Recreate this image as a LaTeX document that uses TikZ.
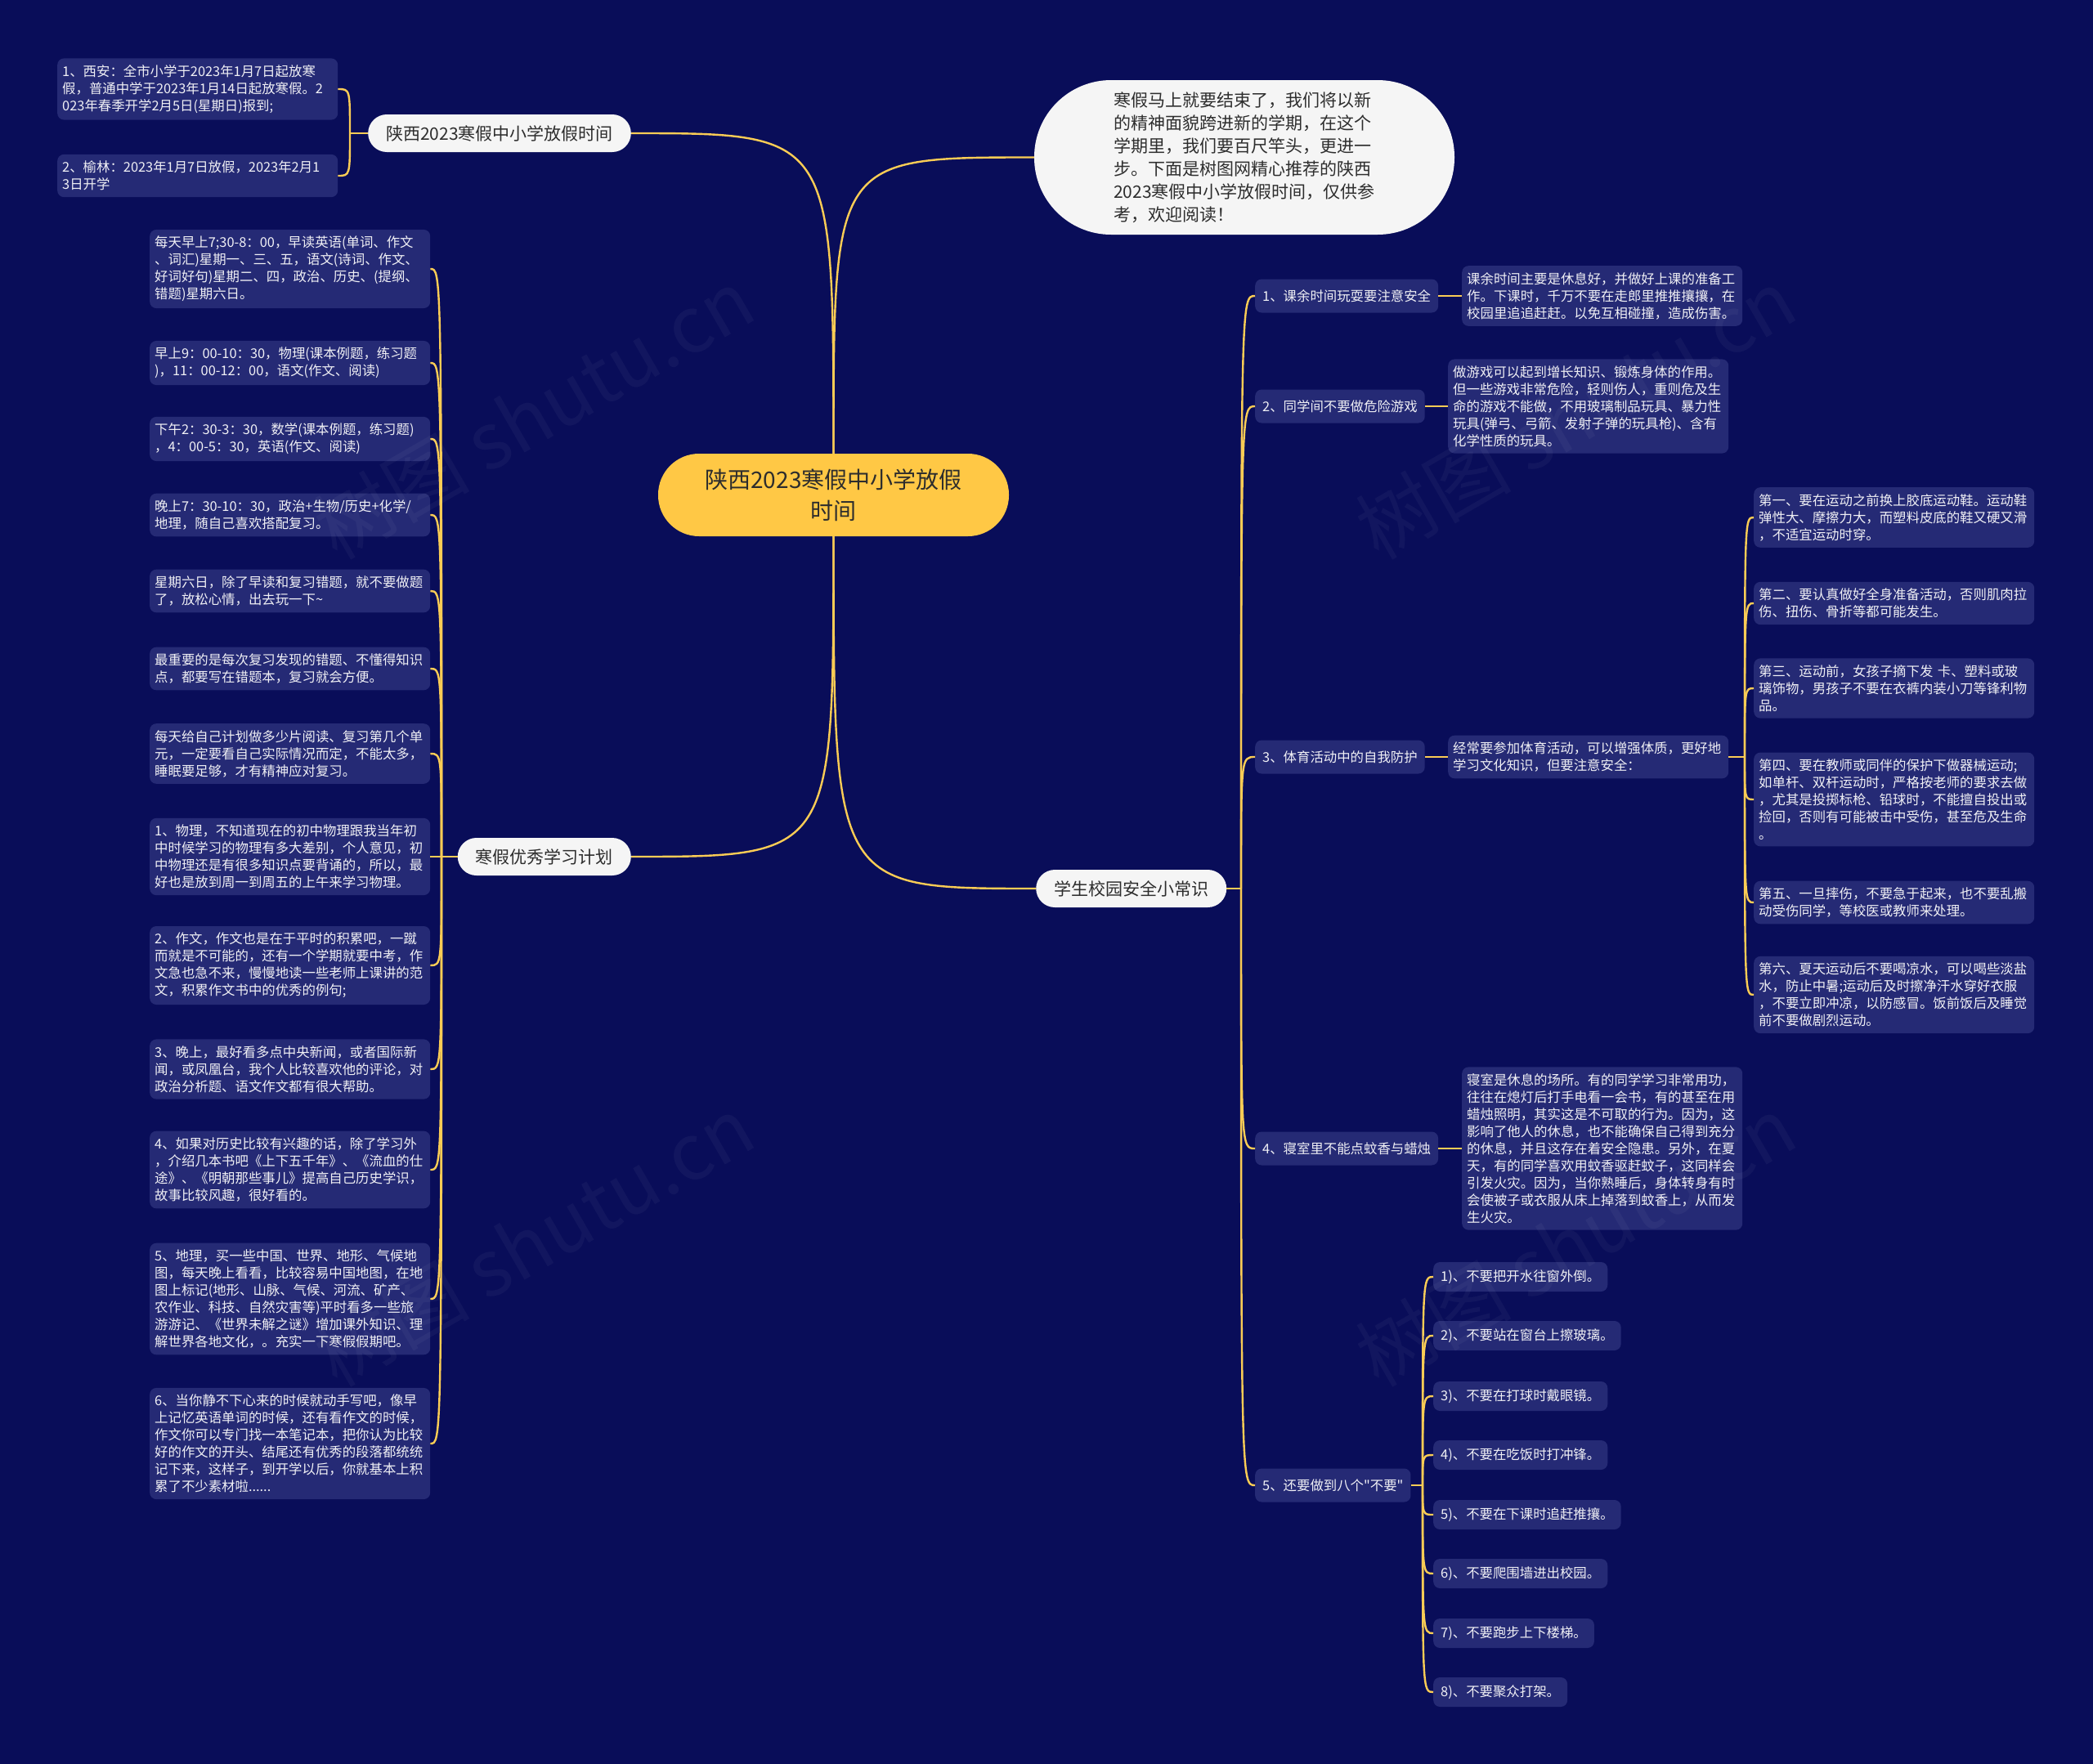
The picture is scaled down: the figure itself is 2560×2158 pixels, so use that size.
\documentclass[tikz,border=0pt]{standalone}
\usepackage{fontspec}
\setmainfont{Noto Sans CJK SC}
\newcommand\straightdq{\XeTeXglyph\XeTeXcharglyph"22\relax}
\definecolor{bg}{RGB}{9,13,89}
\definecolor{leaf}{RGB}{37,42,117}
\definecolor{gold}{RGB}{250,204,85}
\definecolor{core}{RGB}{255,200,69}
\definecolor{pill}{RGB}{245,245,245}
\definecolor{ink}{RGB}{45,45,45}
\definecolor{leaftext}{RGB}{240,240,245}
\tikzset{
  leafbox/.style={fill=leaf, rounded corners=8pt, text=leaftext, font=\fontsize{16.4}{21}\selectfont, align=left, text width=331pt, inner xsep=6pt, inner ysep=8pt, anchor=west},
  tagbox/.style={fill=leaf, rounded corners=8pt, text=leaftext, font=\fontsize{16.4}{21}\selectfont, inner xsep=9pt, minimum height=41pt, anchor=west},
  itembox/.style={tagbox, minimum height=36pt, inner xsep=9pt},
  pillbox/.style={fill=pill, rounded corners=23pt, text=ink, font=\fontsize{21}{26}\selectfont, inner xsep=22pt, minimum height=46pt},
  corebox/.style={fill=core, rounded corners=50pt, minimum width=429pt, minimum height=101pt, text=ink, font=\fontsize{28}{37.5}\selectfont, align=center},
  introbox/.style={fill=pill, rounded corners=94pt, minimum width=514pt, minimum height=189pt, text=ink, font=\fontsize{21}{28}\selectfont, align=left},
  conn/.style={draw=gold, line width=2.4pt},
  wmark/.style={rotate=30, text=white, opacity=0.04, font=\fontsize{95}{95}\selectfont}
}
\begin{document}
\begin{tikzpicture}[x=1pt,y=-1pt]
\useasboundingbox (0,0) rectangle (2560,2158);
\fill[bg] (0,0) rectangle (2560,2158);

% ---- central and branches
\node[corebox] (core) at (1019.5,605.5) {陕西2023寒假中小学放假\\时间};
\node[introbox] (intro) at (1522,192.5) {寒假马上就要结束了，我们将以新\\的精神面貌跨进新的学期，在这个\\学期里，我们要百尺竿头，更进一\\步。下面是树图网精心推荐的陕西\\2023寒假中小学放假时间，仅供参\\考，欢迎阅读！};
\node[pillbox,anchor=east] (b1) at (772,163) {陕西2023寒假中小学放假时间};
\node[pillbox,anchor=east] (b2) at (772,1048) {寒假优秀学习计划};
\node[pillbox,anchor=west] (b3) at (1267,1087) {学生校园安全小常识};

% ---- top-left leaves
\node[leafbox] (t1) at (70,109) {1、西安：全市小学于2023年1月7日起放寒\\假，普通中学于2023年1月14日起放寒假。2\\023年春季开学2月5日(星期日)报到;};
\node[leafbox] (t2) at (70,215) {2、榆林：2023年1月7日放假，2023年2月1\\3日开学};

% ---- left study plan leaves
\node[leafbox] (p1) at (183,329) {每天早上7;30-8：00，早读英语(单词、作文\\、词汇)星期一、三、五，语文(诗词、作文、\\好词好句)星期二、四，政治、历史、(提纲、\\错题)星期六日。};
\node[leafbox] (p2) at (183,444) {早上9：00-10：30，物理(课本例题，练习题\\)，11：00-12：00，语文(作文、阅读)};
\node[leafbox] (p3) at (183,537) {下午2：30-3：30，数学(课本例题，练习题)\\，4：00-5：30，英语(作文、阅读)};
\node[leafbox] (p4) at (183,630) {晚上7：30-10：30，政治+生物/历史+化学/\\地理，随自己喜欢搭配复习。};
\node[leafbox] (p5) at (183,723) {星期六日，除了早读和复习错题，就不要做题\\了，放松心情，出去玩一下\textasciitilde};
\node[leafbox] (p6) at (183,818) {最重要的是每次复习发现的错题、不懂得知识\\点，都要写在错题本，复习就会方便。};
\node[leafbox] (p7) at (183,922) {每天给自己计划做多少片阅读、复习第几个单\\元，一定要看自己实际情况而定，不能太多，\\睡眠要足够，才有精神应对复习。};
\node[leafbox] (p8) at (183,1048) {1、物理，不知道现在的初中物理跟我当年初\\中时候学习的物理有多大差别，个人意见，初\\中物理还是有很多知识点要背诵的，所以，最\\好也是放到周一到周五的上午来学习物理。};
\node[leafbox] (p9) at (183,1181) {2、作文，作文也是在于平时的积累吧，一蹴\\而就是不可能的，还有一个学期就要中考，作\\文急也急不来，慢慢地读一些老师上课讲的范\\文，积累作文书中的优秀的例句;};
\node[leafbox] (p10) at (183,1308) {3、晚上，最好看多点中央新闻，或者国际新\\闻，或凤凰台，我个人比较喜欢他的评论，对\\政治分析题、语文作文都有很大帮助。};
\node[leafbox] (p11) at (183,1431) {4、如果对历史比较有兴趣的话，除了学习外\\，介绍几本书吧《上下五千年》、《流血的仕\\途》、《明朝那些事儿》提高自己历史学识，\\故事比较风趣，很好看的。};
\node[leafbox] (p12) at (183,1589) {5、地理，买一些中国、世界、地形、气候地\\图，每天晚上看看，比较容易中国地图，在地\\图上标记(地形、山脉、气候、河流、矿产、\\农作业、科技、自然灾害等)平时看多一些旅\\游游记、《世界未解之谜》增加课外知识、理\\解世界各地文化，。充实一下寒假假期吧。};
\node[leafbox] (p13) at (183,1766) {6、当你静不下心来的时候就动手写吧，像早\\上记忆英语单词的时候，还有看作文的时候，\\作文你可以专门找一本笔记本，把你认为比较\\好的作文的开头、结尾还有优秀的段落都统统\\记下来，这样子，到开学以后，你就基本上积\\累了不少素材啦......};

% ---- right: safety tips
\node[tagbox] (r1) at (1535,362) {1、课余时间玩耍要注意安全};
\node[tagbox] (r2) at (1535,497) {2、同学间不要做危险游戏};
\node[tagbox] (r3) at (1535,926) {3、体育活动中的自我防护};
\node[tagbox] (r4) at (1535,1405) {4、寝室里不能点蚊香与蜡烛};
\node[tagbox] (r5) at (1535,1817) {5、还要做到八个\straightdq 不要\straightdq};

\node[leafbox] (d1) at (1788,362) {课余时间主要是休息好，并做好上课的准备工\\作。下课时，千万不要在走郎里推推攘攘，在\\校园里追追赶赶。以免互相碰撞，造成伤害。};
\node[leafbox] (d2) at (1771,497) {做游戏可以起到增长知识、锻炼身体的作用。\\但一些游戏非常危险，轻则伤人，重则危及生\\命的游戏不能做，不用玻璃制品玩具、暴力性\\玩具(弹弓、弓箭、发射子弹的玩具枪)、含有\\化学性质的玩具。};
\node[leafbox] (d3) at (1771,926) {经常要参加体育活动，可以增强体质，更好地\\学习文化知识，但要注意安全：};
\node[leafbox] (d4) at (1788,1405) {寝室是休息的场所。有的同学学习非常用功，\\往往在熄灯后打手电看一会书，有的甚至在用\\蜡烛照明，其实这是不可取的行为。因为，这\\影响了他人的休息，也不能确保自己得到充分\\的休息，并且这存在着安全隐患。另外，在夏\\天，有的同学喜欢用蚊香驱赶蚊子，这同样会\\引发火灾。因为，当你熟睡后，身体转身有时\\会使被子或衣服从床上掉落到蚊香上，从而发\\生火灾。};

\node[leafbox] (s1) at (2145,633) {第一、要在运动之前换上胶底运动鞋。运动鞋\\弹性大、摩擦力大，而塑料皮底的鞋又硬又滑\\，不适宜运动时穿。};
\node[leafbox] (s2) at (2145,738) {第二、要认真做好全身准备活动，否则肌肉拉\\伤、扭伤、骨折等都可能发生。};
\node[leafbox] (s3) at (2145,842) {第三、运动前，女孩子摘下发 卡、塑料或玻\\璃饰物，男孩子不要在衣裤内装小刀等锋利物\\品。};
\node[leafbox] (s4) at (2145,978) {第四、要在教师或同伴的保护下做器械运动;\\如单杆、双杆运动时，严格按老师的要求去做\\，尤其是投掷标枪、铅球时，不能擅自投出或\\捡回，否则有可能被击中受伤，甚至危及生命\\。};
\node[leafbox] (s5) at (2145,1104) {第五、一旦摔伤，不要急于起来，也不要乱搬\\动受伤同学，等校医或教师来处理。};
\node[leafbox] (s6) at (2145,1217) {第六、夏天运动后不要喝凉水，可以喝些淡盐\\水，防止中暑;运动后及时擦净汗水穿好衣服\\，不要立即冲凉，以防感冒。饭前饭后及睡觉\\前不要做剧烈运动。};

\node[itembox] (k1) at (1753,1562) {1)、不要把开水往窗外倒。};
\node[itembox] (k2) at (1753,1634) {2)、不要站在窗台上擦玻璃。};
\node[itembox] (k3) at (1753,1708) {3)、不要在打球时戴眼镜。};
\node[itembox] (k4) at (1753,1780) {4)、不要在吃饭时打冲锋。};
\node[itembox] (k5) at (1753,1853) {5)、不要在下课时追赶推攘。};
\node[itembox] (k6) at (1753,1925) {6)、不要爬围墙进出校园。};
\node[itembox] (k7) at (1753,1998) {7)、不要跑步上下楼梯。};
\node[itembox] (k8) at (1753,2070) {8)、不要聚众打架。};

% ---- connectors from centre
\draw[conn] (core.north) .. controls (core.north |- b1.east) .. (b1.east);
\draw[conn] (core.north) .. controls (core.north |- intro.west) .. (intro.west);
\draw[conn] (core.south) .. controls (core.south |- b2.east) .. (b2.east);
\draw[conn] (core.south) .. controls (core.south |- b3.west) .. (b3.west);

% ---- bracket: top-left
\coordinate (j1) at (428,163);
\draw[conn] (b1.west) -- (j1);
\foreach \n in {t1,t2}
  \draw[conn] (j1) .. controls (j1 |- \n.east) .. (\n.east);

% ---- bracket: study plan
\coordinate (j2) at (540,1048);
\draw[conn] (b2.west) -- (j2);
\foreach \n in {p1,p2,p3,p4,p5,p6,p7,p8,p9,p10,p11,p12,p13}
  \draw[conn] (j2) .. controls (j2 |- \n.east) .. (\n.east);

% ---- bracket: safety
\coordinate (j3) at (1518,1087);
\draw[conn] (b3.east) -- (j3);
\foreach \n in {r1,r2,r3,r4,r5}
  \draw[conn] (j3) .. controls (j3 |- \n.west) .. (\n.west);
\draw[conn] (r1.east) -- (d1.west);
\draw[conn] (r2.east) -- (d2.west);
\draw[conn] (r3.east) -- (d3.west);
\draw[conn] (r4.east) -- (d4.west);

\coordinate (j33) at (2134,926);
\draw[conn] (d3.east) -- (j33);
\foreach \n in {s1,s2,s3,s4,s5,s6}
  \draw[conn] (j33) .. controls (j33 |- \n.west) .. (\n.west);

\coordinate (j5) at (1740,1817);
\draw[conn] (r5.east) -- (j5);
\foreach \n in {k1,k2,k3,k4,k5,k6,k7,k8}
  \draw[conn] (j5) .. controls (j5 |- \n.west) .. (\n.west);

% ---- watermarks
\node[wmark] (wm1) at (653,506) {树图 shutu.cn};
\node[wmark] (wm2) at (1927,506) {树图 shutu.cn};
\node[wmark] (wm3) at (653,1518) {树图 shutu.cn};
\node[wmark] (wm4) at (1927,1518) {树图 shutu.cn};
\end{tikzpicture}
\end{document}
